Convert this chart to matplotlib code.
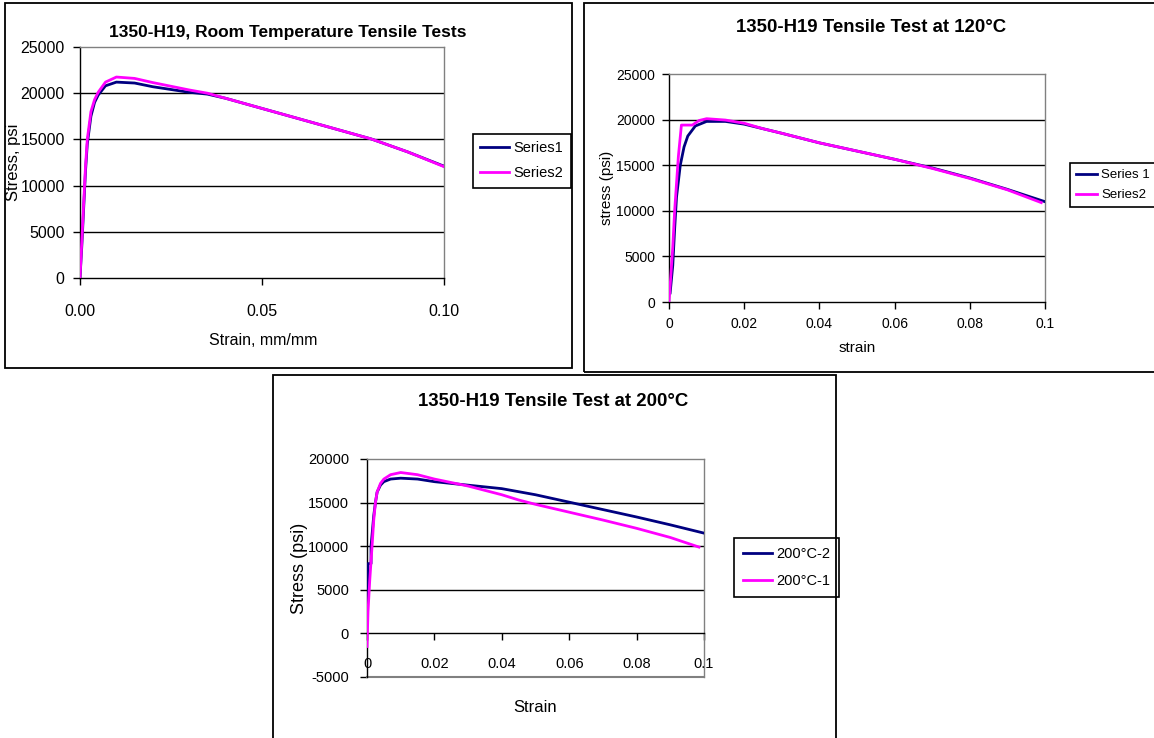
import matplotlib
matplotlib.use("Agg")
import matplotlib.pyplot as plt
from matplotlib.patches import Rectangle

plt.rcParams['font.family'] = ['Liberation Sans', 'DejaVu Sans']
plt.rcParams['axes.unicode_minus'] = False

NAVY = '#000080'
MAGENTA = '#FF00FF'
GREY = '#808080'

# Room temperature test
rt_strain_1 = [0, 0.0005, 0.001, 0.0015, 0.002, 0.003, 0.004, 0.005, 0.007, 0.01, 0.015,
               0.02, 0.025, 0.03, 0.035, 0.04, 0.05, 0.06, 0.07, 0.08, 0.09, 0.1]
rt_stress_1 = [0, 3500, 7500, 11500, 14500, 17500, 19000, 19800, 20800, 21200, 21100,
               20700, 20400, 20100, 19900, 19450, 18350, 17250, 16150, 15050, 13650, 12100]
rt_strain_2 = rt_strain_1
rt_stress_2 = [0, 4000, 8000, 12000, 15000, 18000, 19300, 20100, 21200, 21750, 21600,
               21150, 20750, 20350, 20000, 19450, 18350, 17250, 16150, 15050, 13650, 12050]
rt_labels = ['Series1', 'Series2']
rt_xticks = [0.0, 0.05, 0.10]
rt_xticklabels = ['0.00', '0.05', '0.10']
rt_yticks = [0, 5000, 10000, 15000, 20000, 25000]

# 120 C test
t120_strain_1 = [0.0003, 0.001, 0.0015, 0.002, 0.003, 0.004, 0.005, 0.007, 0.01, 0.015,
                 0.02, 0.025, 0.03, 0.04, 0.05, 0.06, 0.07, 0.08, 0.09, 0.1]
t120_stress_1 = [1000, 4000, 8000, 11500, 15000, 17000, 18200, 19300, 19800, 19800,
                 19500, 19000, 18500, 17450, 16550, 15650, 14700, 13600, 12350, 11000]
t120_strain_2 = [0, 0.0005, 0.001, 0.0015, 0.002, 0.0025, 0.0033, 0.0062, 0.008, 0.01, 0.015,
                 0.02, 0.025, 0.03, 0.04, 0.05, 0.06, 0.07, 0.08, 0.09, 0.099]
t120_stress_2 = [0, 3000, 6000, 10000, 13000, 16000, 19400, 19400, 19900, 20100, 19950,
                 19600, 19000, 18500, 17450, 16550, 15650, 14650, 13550, 12300, 10900]
t120_labels = ['Series 1', 'Series2']
t120_xticks = [0, 0.02, 0.04, 0.06, 0.08, 0.1]
t120_xticklabels = ['0', '0.02', '0.04', '0.06', '0.08', '0.1']
t120_yticks = [0, 5000, 10000, 15000, 20000, 25000]

# 200 C test
t200_strain_2 = [0, 0.0003, 0.0003, 0.0012, 0.0012, 0.002, 0.0025, 0.003, 0.004, 0.005, 0.007,
                 0.01, 0.015, 0.02, 0.025, 0.03, 0.04, 0.05, 0.06, 0.07, 0.08, 0.09, 0.1]
t200_stress_2 = [3000, 5000, 8000, 8000, 10000, 13500, 15000, 16200, 17000, 17400, 17700,
                 17800, 17700, 17400, 17200, 17000, 16600, 15900, 15050, 14200, 13350, 12450, 11500]
t200_strain_1 = [0, 0.0003, 0.0008, 0.0015, 0.002, 0.0025, 0.003, 0.004, 0.005, 0.007, 0.01,
                 0.015, 0.02, 0.025, 0.03, 0.035, 0.04, 0.045, 0.05, 0.06, 0.07, 0.08, 0.09, 0.0985]
t200_stress_1 = [-1500, 2500, 6000, 10000, 13000, 15000, 16200, 17200, 17700, 18200, 18450,
                 18200, 17700, 17300, 16900, 16400, 15900, 15300, 14800, 13900, 13000, 12050, 11000, 9900]
t200_labels = ['200°C-2', '200°C-1']
t200_xticks = [0, 0.02, 0.04, 0.06, 0.08, 0.1]
t200_xticklabels = ['0', '0.02', '0.04', '0.06', '0.08', '0.1']
t200_yticks = [-5000, 0, 5000, 10000, 15000, 20000]

W, H = 1154, 738
fig = plt.figure(figsize=(W / 100, H / 100), dpi=100)


def px_axes(x0, y0, x1, y1):
    # pixel box (top-left origin) -> axes
    return fig.add_axes([x0 / W, 1 - y1 / H, (x1 - x0) / W, (y1 - y0) / H])


def px_text(x, y, s, **kw):
    fig.text(x / W, 1 - y / H, s, ha='center', va='center', **kw)


def px_box(x0, y0, x1, y1):
    fig.patches.append(Rectangle((x0 / W, 1 - y1 / H), (x1 - x0) / W, (y1 - y0) / H,
                                 transform=fig.transFigure, fill=False,
                                 edgecolor='black', linewidth=1.3))


def style_axes(ax, gridlines, fs, xpad, ypad):
    for y in gridlines:
        ax.axhline(y, color='black', linewidth=1.0, zorder=1)
    ax.spines['top'].set_color(GREY)
    ax.spines['right'].set_color(GREY)
    ax.spines['left'].set_color('black')
    ax.spines['bottom'].set_color('black')
    for s in ax.spines.values():
        s.set_linewidth(1.0)
    ax.tick_params(axis='x', direction='out', length=5, width=1, labelsize=fs, pad=xpad)
    ax.tick_params(axis='y', direction='out', length=5, width=1, labelsize=fs, pad=ypad)


def add_legend(ax, x, y, fs, hl, spacing, bpad):
    leg = ax.legend(loc='upper left', bbox_to_anchor=(x / W, 1 - y / H),
                    bbox_transform=fig.transFigure, fontsize=fs, frameon=True,
                    fancybox=False, edgecolor='black', framealpha=1,
                    handlelength=hl, handletextpad=0.3, borderpad=bpad,
                    labelspacing=spacing, borderaxespad=0)
    leg.get_frame().set_linewidth(1.2)


# panel borders
px_box(5, 3, 572, 368)
px_box(584, 3, 1170, 372)
px_box(273, 375, 836, 760)

# --- room temperature
ax1 = px_axes(80, 47, 444, 278)
ax1.plot(rt_strain_1, rt_stress_1, color=NAVY, linewidth=2, label=rt_labels[0], zorder=3)
ax1.plot(rt_strain_2, rt_stress_2, color=MAGENTA, linewidth=2, label=rt_labels[1], zorder=4)
ax1.set_xlim(0, 0.1)
ax1.set_ylim(0, 25000)
ax1.set_xticks(rt_xticks)
ax1.set_xticklabels(rt_xticklabels)
ax1.set_yticks(rt_yticks)
style_axes(ax1, [5000, 10000, 15000, 20000], 11.5, 14, 6)
add_legend(ax1, 473, 134, 10.5, 2.0, 0.75, 0.5)
px_text(288, 32, '1350-H19, Room Temperature Tensile Tests', fontsize=12.5, fontweight='bold')
px_text(263, 340, 'Strain, mm/mm', fontsize=11.5)
px_text(14, 162, 'Stress, psi', fontsize=12, rotation=90)

# --- 120 C
ax2 = px_axes(669, 74, 1045, 302)
ax2.plot(t120_strain_1, t120_stress_1, color=NAVY, linewidth=2, label=t120_labels[0], zorder=3)
ax2.plot(t120_strain_2, t120_stress_2, color=MAGENTA, linewidth=2, label=t120_labels[1], zorder=4)
ax2.set_xlim(0, 0.1)
ax2.set_ylim(0, 25000)
ax2.set_xticks(t120_xticks)
ax2.set_xticklabels(t120_xticklabels)
ax2.set_yticks(t120_yticks)
style_axes(ax2, [5000, 10000, 15000, 20000], 10, 6, 5)
add_legend(ax2, 1070, 163, 9.5, 1.6, 0.6, 0.45)
px_text(871, 28, '1350-H19 Tensile Test at 120°C', fontsize=13.4, fontweight='bold')
px_text(857, 348, 'strain', fontsize=11)
px_text(607, 188, 'stress (psi)', fontsize=11, rotation=90)

# --- 200 C
ax3 = px_axes(367, 459, 704, 677)
ax3.plot(t200_strain_2, t200_stress_2, color=NAVY, linewidth=2, label=t200_labels[0], zorder=3)
ax3.plot(t200_strain_1, t200_stress_1, color=MAGENTA, linewidth=2, label=t200_labels[1], zorder=4)
ax3.set_xlim(0, 0.1)
ax3.set_ylim(-5000, 20000)
ax3.set_xticks(t200_xticks)
ax3.set_xticklabels(t200_xticklabels)
ax3.set_yticks(t200_yticks)
style_axes(ax3, [5000, 10000, 15000], 10.5, 12, 8)
ax3.spines['bottom'].set_position(('data', 0))
ax3.axhline(-5000, color=GREY, linewidth=1.5, clip_on=False, zorder=2)
add_legend(ax3, 734, 538, 10.5, 2.0, 0.9, 0.6)
px_text(553, 402, '1350-H19 Tensile Test at 200°C', fontsize=13.4, fontweight='bold')
px_text(535, 707, 'Strain', fontsize=12)
px_text(299, 568, 'Stress (psi)', fontsize=13, rotation=90)

fig.savefig('out.png', dpi=100)
